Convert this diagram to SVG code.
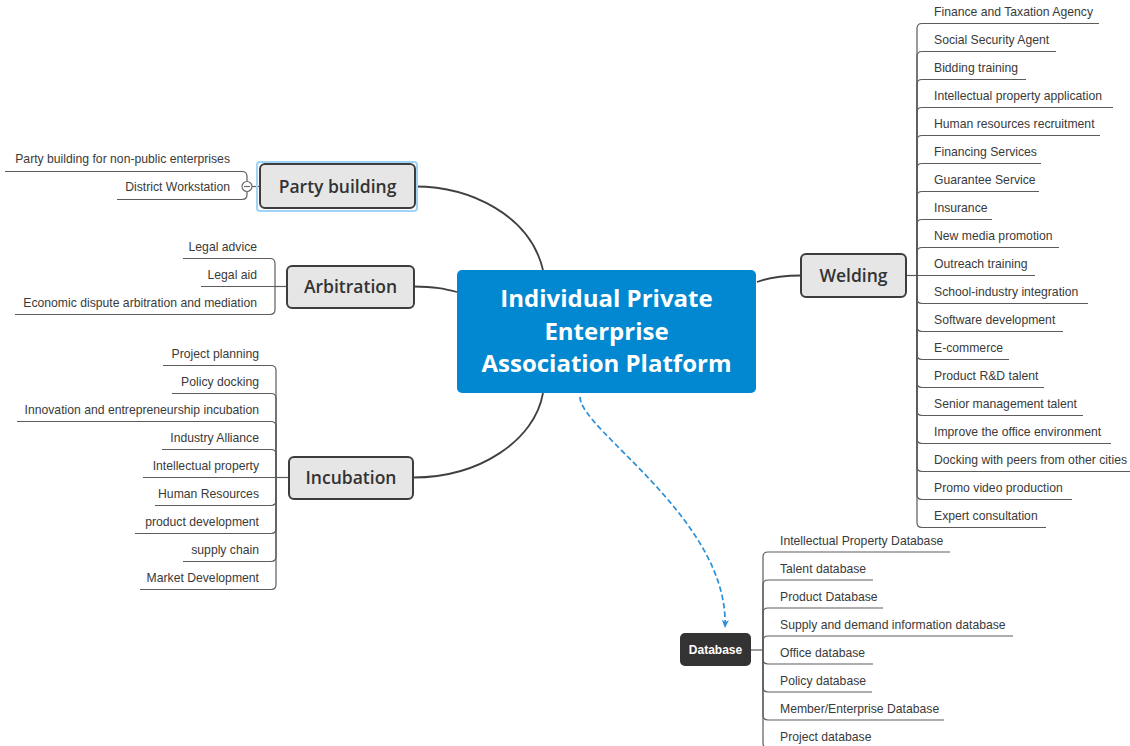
<svg xmlns="http://www.w3.org/2000/svg" width="1130" height="746" viewBox="0 0 1130 746">
<style>
.sub{font-family:"Liberation Sans",Arial,sans-serif;font-size:12.2px;fill:#3a3a3a}
.topic rect.box{fill:#e6e6e6;stroke:#3d3d3d;stroke-width:2}
.ttext{font-family:"Open Sans","Noto Sans",sans-serif;font-size:17.5px;font-weight:600;fill:#333;text-anchor:middle}
.main{fill:none;stroke:#404040;stroke-width:1.8}
.br{fill:none;stroke:#5c5c5c;stroke-width:1.2}
.end{text-anchor:end}
</style>
<defs>
<marker id="arr" viewBox="0 0 10 10" refX="9" refY="5" markerWidth="9" markerHeight="9" markerUnits="userSpaceOnUse" orient="auto">
<path d="M0,1 L9,5 L0,9 L2.5,5 z" fill="#2b8fd8"/>
</marker>
</defs>
<rect width="1130" height="746" fill="#ffffff"/>
<g id="connectors">
<path class="main" d="M415 186.5 C470 186.5 530 215 543 270"/>
<path class="main" d="M414 286.5 C435 286.5 445 289 457 292"/>
<path class="main" d="M413 477.5 C480 477.5 535 440 543 393"/>
<path class="main" d="M757 282 C770 277 785 275.5 801 275.5"/>
<path d="M580 397 C580 430 730 520 725 628" fill="none" stroke="#2b8fd8" stroke-width="1.7" stroke-dasharray="5.5 3" marker-end="url(#arr)"/>
<path class="br" d="M252 186.5 H260"/>
<path class="br" d="M247 186.5 V176.5 Q247 171.5 242 171.5 H5"/>
<path class="br" d="M247 186.5 V194.5 Q247 199.5 242 199.5 H117"/>
<path class="br" d="M287 286.5 H275"/>
<path class="br" d="M275 286.5 V263.5 Q275 258.5 270 258.5 H183"/>
<path class="br" d="M275 286.5 H201"/>
<path class="br" d="M275 286.5 V309.5 Q275 314.5 270 314.5 H15"/>
<path class="br" d="M289 477.5 H276"/>
<path class="br" d="M276 477.5 V370.5 Q276 365.5 271 365.5 H163"/>
<path class="br" d="M276 477.5 V398.5 Q276 393.5 271 393.5 H172"/>
<path class="br" d="M276 477.5 V426.5 Q276 421.5 271 421.5 H17"/>
<path class="br" d="M276 477.5 V454.5 Q276 449.5 271 449.5 H162"/>
<path class="br" d="M276 477.5 H143"/>
<path class="br" d="M276 477.5 V500.5 Q276 505.5 271 505.5 H155"/>
<path class="br" d="M276 477.5 V528.5 Q276 533.5 271 533.5 H135"/>
<path class="br" d="M276 477.5 V556.5 Q276 561.5 271 561.5 H183"/>
<path class="br" d="M276 477.5 V584.5 Q276 589.5 271 589.5 H140"/>
<path class="br" d="M906 275.5 H917"/>
<path class="br" d="M917 275.5 V28.5 Q917 23.5 922 23.5 H1099"/>
<path class="br" d="M917 275.5 V56.5 Q917 51.5 922 51.5 H1056"/>
<path class="br" d="M917 275.5 V84.5 Q917 79.5 922 79.5 H1026"/>
<path class="br" d="M917 275.5 V112.5 Q917 107.5 922 107.5 H1113"/>
<path class="br" d="M917 275.5 V140.5 Q917 135.5 922 135.5 H1100"/>
<path class="br" d="M917 275.5 V168.5 Q917 163.5 922 163.5 H1041"/>
<path class="br" d="M917 275.5 V196.5 Q917 191.5 922 191.5 H1039"/>
<path class="br" d="M917 275.5 V224.5 Q917 219.5 922 219.5 H992"/>
<path class="br" d="M917 275.5 V252.5 Q917 247.5 922 247.5 H1059"/>
<path class="br" d="M917 275.5 H1035"/>
<path class="br" d="M917 275.5 V298.5 Q917 303.5 922 303.5 H1088"/>
<path class="br" d="M917 275.5 V326.5 Q917 331.5 922 331.5 H1063"/>
<path class="br" d="M917 275.5 V354.5 Q917 359.5 922 359.5 H1009"/>
<path class="br" d="M917 275.5 V382.5 Q917 387.5 922 387.5 H1044"/>
<path class="br" d="M917 275.5 V410.5 Q917 415.5 922 415.5 H1083"/>
<path class="br" d="M917 275.5 V438.5 Q917 443.5 922 443.5 H1111"/>
<path class="br" d="M917 275.5 V466.5 Q917 471.5 922 471.5 H1130"/>
<path class="br" d="M917 275.5 V494.5 Q917 499.5 922 499.5 H1072"/>
<path class="br" d="M917 275.5 V522.5 Q917 527.5 922 527.5 H1046"/>
<path class="br" d="M751 650 H763"/>
<path class="br" d="M763 650 V557 Q763 552 768 552 H950"/>
<path class="br" d="M763 650 V585 Q763 580 768 580 H873"/>
<path class="br" d="M763 650 V613 Q763 608 768 608 H883"/>
<path class="br" d="M763 650 V641 Q763 636 768 636 H1013"/>
<path class="br" d="M763 650 V659 Q763 664 768 664 H873"/>
<path class="br" d="M763 650 V687 Q763 692 768 692 H872"/>
<path class="br" d="M763 650 V715 Q763 720 768 720 H944"/>
<path class="br" d="M763 650 V743 Q763 748 768 748 H877"/>
</g>
<g id="central">
<rect x="457" y="270" width="299" height="123" rx="5" fill="#0288d1"/>
<g font-family="'Open Sans','Noto Sans',sans-serif" font-size="24px" font-weight="700" fill="#ffffff" text-anchor="middle">
<text x="606.5" y="307">Individual Private</text>
<text x="606.5" y="340">Enterprise</text>
<text x="606.5" y="372">Association Platform</text>
</g>
</g>
<g id="party-building" class="topic">
<rect x="257" y="162" width="160" height="49" rx="3" fill="none" stroke="#9fd4f7" stroke-width="2"/>
<rect class="box" x="260" y="164" width="155" height="44" rx="5"/>
<text class="ttext" x="337.5" y="193">Party building</text>
<circle cx="247" cy="186.5" r="5" fill="#ffffff" stroke="#6a6a6a" stroke-width="1.2"/>
<path d="M244 186.5 H250" stroke="#6a6a6a" stroke-width="1.2"/>
</g>
<g id="party-children" transform="translate(0,-1.5)">
<text class="sub end" x="230" y="164">Party building for non-public enterprises</text>
<text class="sub end" x="230" y="192">District Workstation</text>
</g>
<g id="arbitration" class="topic">
<rect class="box" x="287" y="266" width="127" height="42" rx="5"/>
<text class="ttext" x="350.5" y="293">Arbitration</text>
</g>
<g id="arbitration-children" transform="translate(0,-1.5)">
<text class="sub end" x="257" y="252">Legal advice</text>
<text class="sub end" x="257" y="280">Legal aid</text>
<text class="sub end" x="257" y="308">Economic dispute arbitration and mediation</text>
</g>
<g id="incubation" class="topic">
<rect class="box" x="289" y="457" width="124" height="42" rx="5"/>
<text class="ttext" x="351" y="484">Incubation</text>
</g>
<g id="incubation-children" transform="translate(0,-1.5)">
<text class="sub end" x="259" y="359.5">Project planning</text>
<text class="sub end" x="259" y="387.5">Policy docking</text>
<text class="sub end" x="259" y="415.5">Innovation and entrepreneurship incubation</text>
<text class="sub end" x="259" y="443.5">Industry Alliance</text>
<text class="sub end" x="259" y="471.5">Intellectual property</text>
<text class="sub end" x="259" y="499.5">Human Resources</text>
<text class="sub end" x="259" y="527.5">product development</text>
<text class="sub end" x="259" y="555.5">supply chain</text>
<text class="sub end" x="259" y="583.5">Market Development</text>
</g>
<g id="welding" class="topic">
<rect class="box" x="801" y="254" width="105" height="43" rx="5"/>
<text class="ttext" x="853.5" y="281.5">Welding</text>
</g>
<g id="welding-children" transform="translate(0,-1.5)">
<text class="sub" x="934" y="17.5">Finance and Taxation Agency</text>
<text class="sub" x="934" y="45.5">Social Security Agent</text>
<text class="sub" x="934" y="73.5">Bidding training</text>
<text class="sub" x="934" y="101.5">Intellectual property application</text>
<text class="sub" x="934" y="129.5">Human resources recruitment</text>
<text class="sub" x="934" y="157.5">Financing Services</text>
<text class="sub" x="934" y="185.5">Guarantee Service</text>
<text class="sub" x="934" y="213.5">Insurance</text>
<text class="sub" x="934" y="241.5">New media promotion</text>
<text class="sub" x="934" y="269.5">Outreach training</text>
<text class="sub" x="934" y="297.5">School-industry integration</text>
<text class="sub" x="934" y="325.5">Software development</text>
<text class="sub" x="934" y="353.5">E-commerce</text>
<text class="sub" x="934" y="381.5">Product R&amp;D talent</text>
<text class="sub" x="934" y="409.5">Senior management talent</text>
<text class="sub" x="934" y="437.5">Improve the office environment</text>
<text class="sub" x="934" y="465.5">Docking with peers from other cities</text>
<text class="sub" x="934" y="493.5">Promo video production</text>
<text class="sub" x="934" y="521.5">Expert consultation</text>
</g>
<g id="database">
<rect x="680" y="633" width="71" height="33" rx="5" fill="#333333"/>
<text x="715.5" y="653.5" font-family="'Liberation Sans',Arial,sans-serif" font-size="12px" font-weight="700" fill="#ffffff" text-anchor="middle">Database</text>
</g>
<g id="database-children" transform="translate(0,-1.5)">
<text class="sub" x="780" y="546">Intellectual Property Database</text>
<text class="sub" x="780" y="574">Talent database</text>
<text class="sub" x="780" y="602">Product Database</text>
<text class="sub" x="780" y="630">Supply and demand information database</text>
<text class="sub" x="780" y="658">Office database</text>
<text class="sub" x="780" y="686">Policy database</text>
<text class="sub" x="780" y="714">Member/Enterprise Database</text>
<text class="sub" x="780" y="742">Project database</text>
</g>
</svg>
